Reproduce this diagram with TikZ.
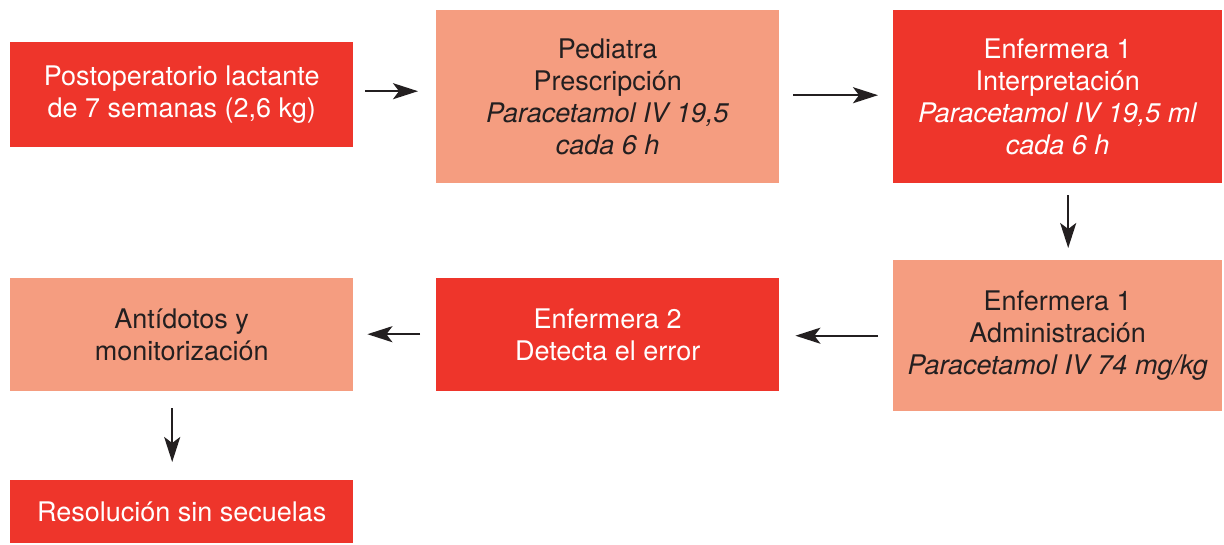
\documentclass[tikz,border=0pt]{standalone}
\usepackage{fontspec}
\setmainfont{TeX Gyre Heros}
\usetikzlibrary{arrows.meta}
\definecolor{boxred}{HTML}{EE352B}
\definecolor{boxsalmon}{HTML}{F59D80}
\definecolor{ink}{HTML}{231F20}
\tikzset{
  box/.style={rectangle, inner sep=0pt, align=center, anchor=north west,
    font=\fontsize{27}{32}\selectfont},
  redbox/.style={box, fill=boxred, text=white},
  salbox/.style={box, fill=boxsalmon, text=ink},
  flow/.style={draw=ink, line width=2.2pt,
    -{Stealth[length=25pt,width=16pt,inset=6pt]}},
}
\begin{document}
\begin{tikzpicture}[x=1pt,y=-1pt]
\useasboundingbox[fill=white] (0,0) rectangle (1224,544);
% top row
\node[redbox, minimum width=343pt, minimum height=105pt] (b1) at (10,42)
  {Postoperatorio lactante\\de 7 semanas (2,6 kg)};
\node[salbox, minimum width=343pt, minimum height=173pt] (b2) at (436,10)
  {Pediatra\\Prescripción\\\textit{Paracetamol IV 19,5}\\\textit{cada 6 h}};
\node[redbox, minimum width=329pt, minimum height=173pt] (b3) at (893,10)
  {Enfermera 1\\Interpretación\\\textit{Paracetamol IV 19,5 ml}\\\textit{cada 6 h}};
% middle row
\node[salbox, minimum width=329pt, minimum height=151pt] (b4) at (893,260)
  {Enfermera 1\\Administración\\\textit{Paracetamol IV 74 mg/kg}};
\node[redbox, minimum width=343pt, minimum height=113pt] (b5) at (436,278)
  {Enfermera 2\\Detecta el error};
\node[salbox, minimum width=343pt, minimum height=113pt] (b6) at (10,278)
  {Antídotos y\\monitorización};
% bottom
\node[redbox, minimum width=343pt, minimum height=63pt] (b7) at (10,480)
  {Resolución sin secuelas};
% connectors
\draw[flow, shorten <=12pt, shorten >=18pt] ([yshift=3.5pt]b1.east) -- ([yshift=3.5pt]b1.east -| b2.west);
\draw[flow, shorten <=14pt, shorten >=15pt] ([yshift=1.5pt]b2.east) -- ([yshift=1.5pt]b2.east -| b3.west);
\draw[flow, shorten <=12pt, shorten >=12pt] ([xshift=10.5pt]b3.south) -- ([xshift=10.5pt]b4.north);
\draw[flow, shorten <=15pt, shorten >=16pt] (b4.west) -- (b4.west -| b5.east);
\draw[flow, shorten <=16pt, shorten >=14pt] ([yshift=0.5pt]b5.west) -- ([yshift=0.5pt]b5.west -| b6.east);
\draw[flow, shorten <=17pt, shorten >=18pt] ([xshift=-9.5pt]b6.south) -- ([xshift=-9.5pt]b7.north);
\end{tikzpicture}
\end{document}
